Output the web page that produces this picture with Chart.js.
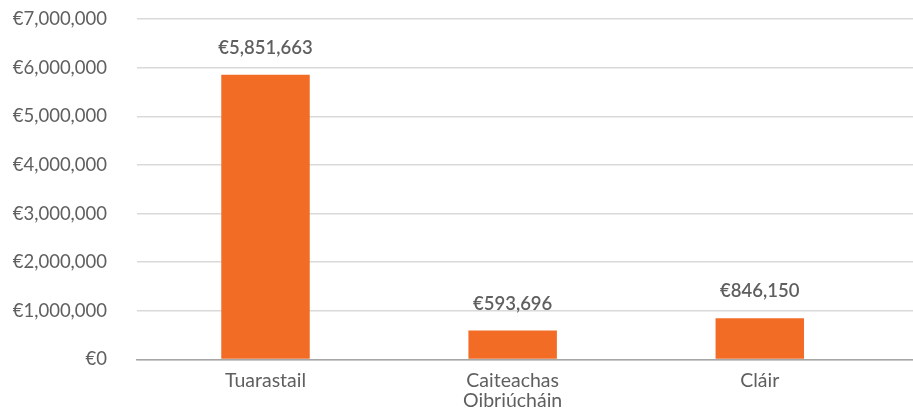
<!DOCTYPE html>
<html>
<head>
<meta charset="utf-8">
<script src="https://cdn.jsdelivr.net/npm/chart.js@4.4.1/dist/chart.umd.min.js"></script>
<style>
    html, body { margin: 0; padding: 0; background: #fff; }
    #wrap { width: 913px; height: 409px; position: relative; }
</style>
</head>
<body>
<div id="wrap"><canvas id="costChart"></canvas></div>
<script>
const categories = ['Tuarastail', ['Caiteachas', 'Oibriúcháin'], 'Cláir'];
const amounts = [5851663, 593696, 846150];
const yTicks = [0, 1000000, 2000000, 3000000, 4000000, 5000000, 6000000, 7000000];

const textColor = '#5f5f5f';
const barColor = '#f26c26';

function euro(value) {
    return '€' + value.toLocaleString('en-US');
}

// Value labels above each bar
const barLabels = {
    id: 'barLabels',
    afterDatasetsDraw(chart) {
        const ctx = chart.ctx;
        const meta = chart.getDatasetMeta(0);
        ctx.save();
        ctx.font = '600 18.5px Lato';
        ctx.fillStyle = textColor;
        ctx.textAlign = 'center';
        ctx.textBaseline = 'alphabetic';
        meta.data.forEach((bar, i) => {
            ctx.fillText(euro(amounts[i]), bar.x, bar.y - 21);
        });
        ctx.restore();
    }
};

document.addEventListener('DOMContentLoaded', function() {
    const ctx = document.getElementById('costChart');

    new Chart(ctx, {
        type: 'bar',
        data: {
            datasets: [{
                data: amounts.map((v, i) => ({ x: i, y: v })),
                backgroundColor: barColor,
                borderWidth: 0,
                categoryPercentage: 1,
                barPercentage: 0.358
            }]
        },
        options: {
            responsive: true,
            maintainAspectRatio: false,
            animation: false,
            layout: { padding: 0 },
            plugins: {
                legend: { display: false },
                tooltip: { enabled: false }
            },
            scales: {
                x: {
                    type: 'linear',
                    offset: false,
                    min: -0.52,
                    max: 2.62,
                    grid: { display: false, drawTicks: false },
                    border: { display: true, color: '#a6a6a6', width: 1.5 },
                    afterBuildTicks: function(scale) {
                        scale.ticks = categories.map((c, i) => ({ value: i }));
                    },
                    afterFit: function(scale) {
                        scale.height = 49.5;
                    },
                    ticks: {
                        padding: 11,
                        color: textColor,
                        font: { family: 'Lato', size: 19.5, lineHeight: 1.05 },
                        maxRotation: 0,
                        autoSkip: false,
                        callback: function(value) {
                            return categories[value];
                        }
                    }
                },
                y: {
                    min: 0,
                    max: 7000000,
                    afterBuildTicks: function(scale) {
                        scale.ticks = yTicks.map(v => ({ value: v }));
                    },
                    afterFit: function(scale) {
                        scale.width = 137;
                        // keep the top gridline close to the canvas edge
                        scale.paddingTop = 19;
                        scale.paddingBottom = 0;
                    },
                    grid: { color: '#d9d9d9', lineWidth: 1.5, drawTicks: false },
                    border: { display: false },
                    ticks: {
                        padding: 30,
                        color: textColor,
                        font: { family: 'Lato', size: 18.5 },
                        callback: function(value) {
                            return euro(value);
                        }
                    }
                }
            }
        },
        plugins: [barLabels]
    });
});
</script>
</body>
</html>
